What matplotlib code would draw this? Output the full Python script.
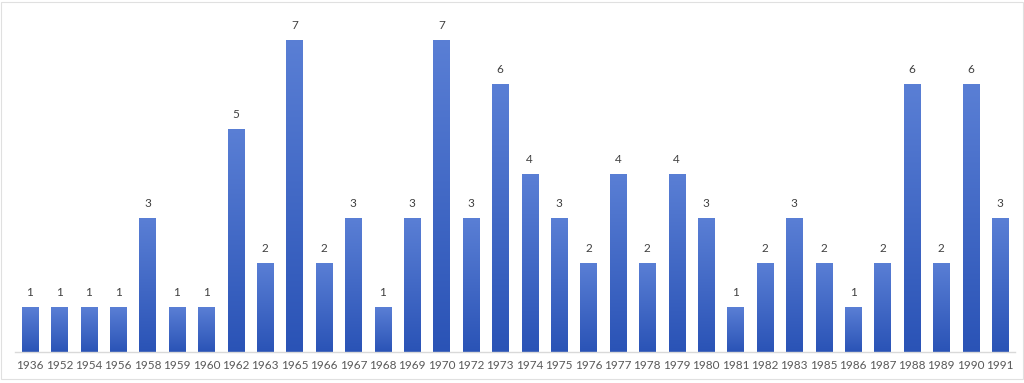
import matplotlib
matplotlib.use("Agg")
import matplotlib.pyplot as plt
import numpy as np
from matplotlib.colors import LinearSegmentedColormap
from matplotlib.patches import Rectangle

years = ["1936", "1952", "1954", "1956", "1958", "1959", "1960", "1962", "1963", "1965",
         "1966", "1967", "1968", "1969", "1970", "1972", "1973", "1974", "1975", "1976",
         "1977", "1978", "1979", "1980", "1981", "1982", "1983", "1985", "1986", "1987",
         "1988", "1989", "1990", "1991"]
counts = [1, 1, 1, 1, 3, 1, 1, 5, 2, 7,
          2, 3, 1, 3, 7, 3, 6, 4, 3, 2,
          4, 2, 4, 3, 1, 2, 3, 2, 1, 2,
          6, 2, 6, 3]

plt.rcParams['font.family'] = ['Lato', 'DejaVu Sans']

fig = plt.figure(figsize=(10.24, 3.83), dpi=100)
W, H = 1024, 383
left, right = 15.3, 1014.7
bottom, top = 352, 12
ax = fig.add_axes([left / W, 1 - bottom / H, (right - left) / W, (bottom - top) / H])

x = np.arange(len(years))
bars = ax.bar(x, counts, width=0.55, color='none', edgecolor='none', zorder=2)

cmap = LinearSegmentedColormap.from_list('g', ['#2a53b6', '#5a7fd5'])
grad = np.linspace(0, 1, 256).reshape(-1, 1)
for b in bars:
    x0, y0 = b.get_x(), b.get_y()
    w, h = b.get_width(), b.get_height()
    im = ax.imshow(grad, extent=[x0, x0 + w, y0, y0 + h], origin='lower',
                   cmap=cmap, aspect='auto', zorder=2)
    im.set_clip_path(b)

for xi, v in zip(x, counts):
    ax.text(xi, v + 0.2, str(v), ha='center', va='bottom', fontsize=8.5, color='#404040')

ax.set_xlim(-0.5, len(years) - 0.5)
ax.set_ylim(0, (bottom - top) / 44.6)
ax.set_xticks(x)
ax.set_xticklabels(years, fontsize=8.5, color='#595959')
ax.tick_params(axis='x', length=0, pad=6)
ax.set_yticks([])
for s in ['top', 'right', 'left']:
    ax.spines[s].set_visible(False)
ax.spines['bottom'].set_color('#d9d9d9')
ax.spines['bottom'].set_linewidth(1)

fig.patches.append(Rectangle((0.001, 0.01), 0.998, 0.985, transform=fig.transFigure,
                             fill=False, edgecolor='#e0e0e0', linewidth=0.8))

fig.savefig('out.png', dpi=100)
